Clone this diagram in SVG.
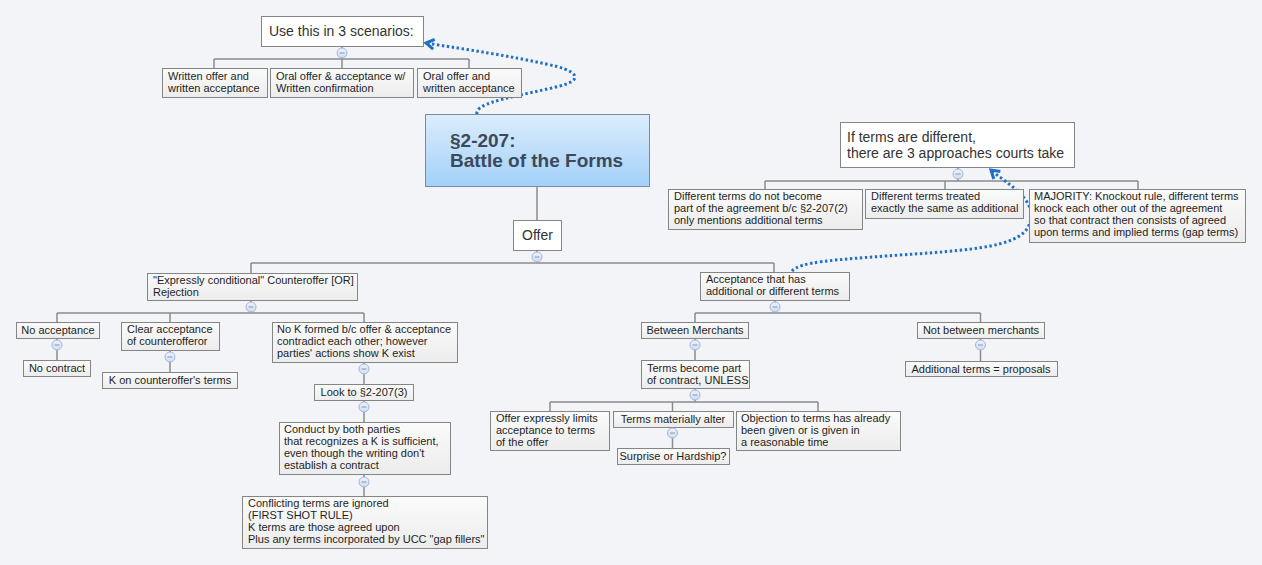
<svg xmlns="http://www.w3.org/2000/svg" width="1262" height="565" viewBox="0 0 1262 565">
<style>
.bg{fill:#f3f4f7}
.box{fill:url(#gBox);stroke:#858585;stroke-width:1}
.top{fill:#ffffff;stroke:#858585;stroke-width:1}
.title{fill:url(#gTitle);stroke:#7b8d9c;stroke-width:1}
.t{font-family:"Liberation Sans",Arial,sans-serif;font-size:11px;fill:#1e1e1e}
.m{text-anchor:middle}
.t14{font-family:"Liberation Sans",Arial,sans-serif;font-size:14px;fill:#333333}
.tt{font-family:"Liberation Sans",Arial,sans-serif;font-size:19px;font-weight:bold;fill:#3b4a5a}
.ln{stroke:#8b8b8b;stroke-width:1.5;fill:none}
.col{fill:url(#gCol);stroke:#a3b6da;stroke-width:1}
.minus{stroke:#8196c2;stroke-width:1}
.rel{stroke:#1f6fc8;stroke-width:3;fill:none;stroke-dasharray:2.4 2.6}
</style>
<defs>
<linearGradient id="gBox" x1="0" y1="0" x2="0" y2="1">
<stop offset="0" stop-color="#fbfbfb"/>
<stop offset="1" stop-color="#ececec"/>
</linearGradient>
<linearGradient id="gTitle" x1="0" y1="0" x2="0" y2="1">
<stop offset="0" stop-color="#dcedfc"/>
<stop offset="1" stop-color="#a3d0f9"/>
</linearGradient>
<linearGradient id="gCol" x1="0" y1="0" x2="0" y2="1">
<stop offset="0" stop-color="#eef3fb"/>
<stop offset="1" stop-color="#cfdcf1"/>
</linearGradient>
<marker id="arr" markerUnits="userSpaceOnUse" markerWidth="20" markerHeight="20" refX="0" refY="0" orient="auto" overflow="visible">
<path d="M-8,-5 L0,0 L-8,5" fill="none" stroke="#1f6fc8" stroke-width="3"/>
</marker>
<g id="colIcon">
<circle class="col" cx="0" cy="0" r="5"/>
<line class="minus" x1="-2.5" y1="0" x2="2.5" y2="0"/>
</g>
</defs>
<rect class="bg" x="0" y="0" width="1262" height="565"/>

<g id="connectors">
<path class="ln" d="M342,46V59M214,59H469M214,59V68M342,59V68M469,59V68"/>
<path class="ln" d="M537,186V220"/>
<path class="ln" d="M537,250V263M251,263H774M251,263V273M774,263V272"/>
<path class="ln" d="M251,300V313M57,313H364M57,313V322M170,313V322M364,313V322"/>
<path class="ln" d="M57,338V360M170,350V372M364,362V384M364,400V422M364,474V496"/>
<path class="ln" d="M775,300V313M695,313H980.5M695,313V322M980.5,313V322"/>
<path class="ln" d="M695,338V360M695,388V402M550,402H818M550,402V411M672.5,402V411M818,402V411"/>
<path class="ln" d="M672.5,427V448M980.5,338V361"/>
<path class="ln" d="M958,167V181M765,181H1138M765,181V189M945,181V189M1138,181V189"/>
<path class="rel" marker-end="url(#arr)" d="M477,114 C474,102 520,96 560,86 C586,79 576,70 546,64 C510,56 470,50 426,43"/>
<path class="rel" marker-end="url(#arr)" d="M792,271 C800,262 830,260 900,255 C990,249 1031,245 1031,215 C1031,196 1006,183 991,170"/>
</g>

<g id="n_use">
<rect class="top" x="261.5" y="16.5" width="162" height="30"/>
<text class="t14" x="269" y="36">Use this in 3 scenarios:</text>
<use href="#colIcon" x="342" y="53"/>
</g>
<g id="n_s1">
<rect class="box" x="162.5" y="68.5" width="105" height="29"/>
<text class="t" x="168" y="80">Written offer and</text>
<text class="t" x="168" y="92">written acceptance</text>
</g>
<g id="n_s2">
<rect class="box" x="270.5" y="68.5" width="143" height="29"/>
<text class="t" x="276" y="80">Oral offer &amp; acceptance w/</text>
<text class="t" x="276" y="92">Written confirmation</text>
</g>
<g id="n_s3">
<rect class="box" x="417.5" y="68.5" width="104" height="29"/>
<text class="t" x="423" y="80">Oral offer and</text>
<text class="t" x="423" y="92">written acceptance</text>
</g>

<g id="n_title">
<rect class="title" x="425.5" y="114.5" width="224" height="72"/>
<text class="tt" x="450" y="147">§2-207:</text>
<text class="tt" x="450" y="167">Battle of the Forms</text>
</g>

<g id="n_offer">
<rect class="top" x="513.5" y="220.5" width="48" height="30"/>
<text class="t14 m" x="537.5" y="240">Offer</text>
<use href="#colIcon" x="537" y="257"/>
</g>

<g id="n_exp">
<rect class="box" x="147.5" y="273.5" width="210" height="27"/>
<text class="t" x="153" y="284">"Expressly conditional" Counteroffer [OR]</text>
<text class="t" x="153" y="296">Rejection</text>
<use href="#colIcon" x="251" y="307"/>
</g>
<g id="n_noacc">
<rect class="box" x="16.5" y="322.5" width="83" height="16"/>
<text class="t m" x="58" y="334">No acceptance</text>
<use href="#colIcon" x="57" y="345"/>
</g>
<g id="n_nocon">
<rect class="box" x="23.5" y="360.5" width="67" height="16"/>
<text class="t m" x="57" y="372">No contract</text>
</g>
<g id="n_clear">
<rect class="box" x="121.5" y="322.5" width="98" height="28"/>
<text class="t" x="127" y="333">Clear acceptance</text>
<text class="t" x="127" y="345">of counterofferor</text>
<use href="#colIcon" x="170" y="357"/>
</g>
<g id="n_kcounter">
<rect class="box" x="102.5" y="372.5" width="135" height="16"/>
<text class="t m" x="170" y="384">K on counteroffer's terms</text>
</g>
<g id="n_nok">
<rect class="box" x="272.5" y="322.5" width="185" height="40"/>
<text class="t" x="277" y="333">No K formed b/c offer &amp; acceptance</text>
<text class="t" x="277" y="345">contradict each other; however</text>
<text class="t" x="277" y="357">parties' actions show K exist</text>
<use href="#colIcon" x="364" y="369"/>
</g>
<g id="n_look">
<rect class="box" x="314.5" y="384.5" width="99" height="16"/>
<text class="t m" x="364" y="396">Look to §2-207(3)</text>
<use href="#colIcon" x="364" y="407"/>
</g>
<g id="n_conduct">
<rect class="box" x="279.5" y="422.5" width="171" height="52"/>
<text class="t" x="284" y="433">Conduct by both parties</text>
<text class="t" x="284" y="445">that recognizes a K is sufficient,</text>
<text class="t" x="284" y="457">even though the writing don't</text>
<text class="t" x="284" y="469">establish a contract</text>
<use href="#colIcon" x="364" y="482"/>
</g>
<g id="n_conflict">
<rect class="box" x="242.5" y="496.5" width="245" height="52"/>
<text class="t" x="248" y="507">Conflicting terms are ignored</text>
<text class="t" x="248" y="519">(FIRST SHOT RULE)</text>
<text class="t" x="248" y="531">K terms are those agreed upon</text>
<text class="t" x="248" y="543">Plus any terms incorporated by UCC "gap fillers"</text>
</g>

<g id="n_accept">
<rect class="box" x="700.5" y="272.5" width="149" height="28"/>
<text class="t" x="706" y="283">Acceptance that has</text>
<text class="t" x="706" y="295">additional or different terms</text>
<use href="#colIcon" x="775" y="307"/>
</g>
<g id="n_between">
<rect class="box" x="641.5" y="322.5" width="107" height="16"/>
<text class="t m" x="695" y="334">Between Merchants</text>
<use href="#colIcon" x="695" y="345"/>
</g>
<g id="n_become">
<rect class="box" x="641.5" y="360.5" width="108" height="28"/>
<text class="t" x="647" y="372">Terms become part</text>
<text class="t" x="647" y="384">of contract, UNLESS</text>
<use href="#colIcon" x="695" y="395"/>
</g>
<g id="n_limits">
<rect class="box" x="490.5" y="411.5" width="119" height="39"/>
<text class="t" x="496" y="422">Offer expressly limits</text>
<text class="t" x="496" y="434">acceptance to terms</text>
<text class="t" x="496" y="446">of the offer</text>
</g>
<g id="n_alter">
<rect class="box" x="613.5" y="411.5" width="120" height="16"/>
<text class="t m" x="673" y="423">Terms materially alter</text>
<use href="#colIcon" x="672.5" y="433"/>
</g>
<g id="n_surprise">
<rect class="box" x="617.5" y="448.5" width="112" height="16"/>
<text class="t m" x="673" y="460">Surprise or Hardship?</text>
</g>
<g id="n_objection">
<rect class="box" x="736.5" y="411.5" width="164" height="39"/>
<text class="t" x="741" y="422">Objection to terms has already</text>
<text class="t" x="741" y="434">been given or is given in</text>
<text class="t" x="741" y="446">a reasonable time</text>
</g>
<g id="n_notbetween">
<rect class="box" x="917.5" y="322.5" width="127" height="16"/>
<text class="t m" x="981" y="334">Not between merchants</text>
<use href="#colIcon" x="980.5" y="345"/>
</g>
<g id="n_additional">
<rect class="box" x="905.5" y="361.5" width="152" height="15"/>
<text class="t m" x="981" y="373">Additional terms = proposals</text>
</g>

<g id="n_ifterms">
<rect class="top" x="840.5" y="122.5" width="234" height="45"/>
<text class="t14" x="847" y="142">If terms are different,</text>
<text class="t14" x="847" y="158">there are 3 approaches courts take</text>
<use href="#colIcon" x="958" y="174"/>
</g>
<g id="n_diff1">
<rect class="box" x="668.5" y="189.5" width="194" height="40"/>
<text class="t" x="674" y="200">Different terms do not become</text>
<text class="t" x="674" y="212">part of the agreement b/c §2-207(2)</text>
<text class="t" x="674" y="224">only mentions additional terms</text>
</g>
<g id="n_diff2">
<rect class="box" x="865.5" y="189.5" width="158" height="29"/>
<text class="t" x="871" y="200">Different terms treated</text>
<text class="t" x="871" y="212">exactly the same as additional</text>
</g>
<g id="n_major">
<rect class="box" x="1029.5" y="189.5" width="216" height="53"/>
<text class="t" x="1034" y="200">MAJORITY: Knockout rule, different terms</text>
<text class="t" x="1034" y="212">knock each other out of the agreement</text>
<text class="t" x="1034" y="224">so that contract then consists of agreed</text>
<text class="t" x="1034" y="236">upon terms and implied terms (gap terms)</text>
</g>
</svg>
